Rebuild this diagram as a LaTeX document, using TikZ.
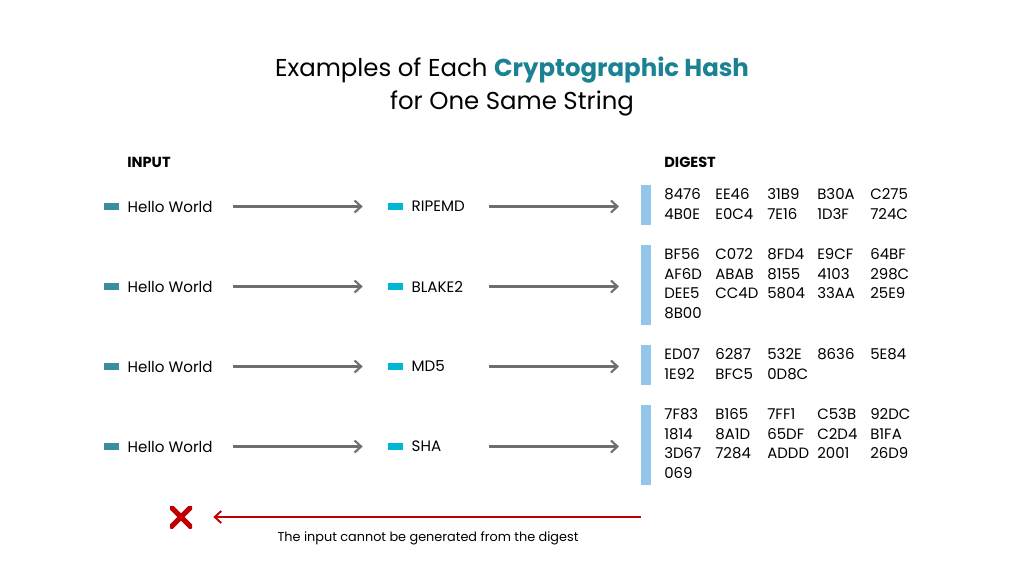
\documentclass[tikz,border=0pt]{standalone}
\usepackage{fontspec}
\setmainfont{Poppins}
\usetikzlibrary{arrows.meta,positioning}

\definecolor{hashteal}{HTML}{1A8292}
\definecolor{insq}{HTML}{3A8CA0}
\definecolor{algsq}{HTML}{00B7D8}
\definecolor{barblue}{HTML}{93C6E8}
\definecolor{flowgrey}{HTML}{6E6E6E}
\definecolor{nored}{HTML}{C00000}

\newcommand{\dgtab}[1]{\begin{tabular}{@{}p{10.2mm}@{}p{10.4mm}@{}p{10mm}@{}p{10.6mm}@{}l@{}}#1\end{tabular}}

\tikzset{
  sqin/.style={fill=insq, minimum width=3mm, minimum height=1.4mm, inner sep=0},
  sqalg/.style={fill=algsq, minimum width=3mm, minimum height=1.4mm, inner sep=0},
  lbl/.style={inner sep=0, font=\fontsize{8.6}{10}\selectfont},
  head/.style={anchor=west, inner sep=0, font=\fontsize{8.3}{10}\selectfont\bfseries},
  dig/.style={anchor=north west, inner sep=0, font=\fontsize{8.5}{11.3}\selectfont},
  flow/.style={draw=flowgrey, line width=0.42mm, -{Straight Barb[length=1.3mm,width=2.4mm]}},
  nogo/.style={draw=nored, line width=0.38mm, -{Straight Barb[length=1.3mm,width=2.4mm]}},
}

\begin{document}
\begin{tikzpicture}[x=0.02cm, y=-0.02cm]
  \useasboundingbox[fill=white] (0,0) rectangle (1024,576);

  % title
  \node[align=center, inner sep=0, font=\fontsize{13.9}{19.3}\selectfont] (title) at (512,86.5)
    {Examples of Each \textcolor{hashteal}{\textbf{Cryptographic Hash}}\\ for One Same String};

  \node[head] (hin) at (127,162) {INPUT};
  \node[head] (hdg) at (664,162) {DIGEST};

  % RIPEMD
  \node[sqin] (sqin1) at (111.5,206.5) {};
  \node[lbl, right=1.6mm of sqin1] (in1) {Hello World};
  \node[sqalg] (sqalg1) at (395.5,206.5) {};
  \node[lbl, right=1.6mm of sqalg1] (alg1) {RIPEMD};
  \node[dig] (dg1) at (664,185) {\dgtab{8476 & EE46 & 31B9 & B30A & C275\\ 4B0E & E0C4 & 7E16 & 1D3F & 724C}};
  \fill[barblue] ([xshift=-4.6mm]dg1.north west) rectangle ([xshift=-2.6mm]dg1.south west);
  \draw[flow, shorten <=22.8mm, shorten >=5mm] (sqin1.east) -- (sqalg1.west);
  \draw[flow, shorten <=17.2mm, shorten >=9mm] (sqalg1.east) -- (sqalg1.east -| dg1.west);

  % BLAKE2
  \node[sqin] (sqin2) at (111.5,286.5) {};
  \node[lbl, right=1.6mm of sqin2] (in2) {Hello World};
  \node[sqalg] (sqalg2) at (395.5,286.5) {};
  \node[lbl, right=1.6mm of sqalg2] (alg2) {BLAKE2};
  \node[dig] (dg2) at (664,245) {\dgtab{BF56 & C072 & 8FD4 & E9CF & 64BF\\ AF6D & ABAB & 8155 & 4103 & 298C\\ DEE5 & CC4D & 5804 & 33AA & 25E9\\ 8B00}};
  \fill[barblue] ([xshift=-4.6mm]dg2.north west) rectangle ([xshift=-2.6mm]dg2.south west);
  \draw[flow, shorten <=22.8mm, shorten >=5mm] (sqin2.east) -- (sqalg2.west);
  \draw[flow, shorten <=17.2mm, shorten >=9mm] (sqalg2.east) -- (sqalg2.east -| dg2.west);

  % MD5
  \node[sqin] (sqin3) at (111.5,366.5) {};
  \node[lbl, right=1.6mm of sqin3] (in3) {Hello World};
  \node[sqalg] (sqalg3) at (395.5,366.5) {};
  \node[lbl, right=1.6mm of sqalg3] (alg3) {MD5};
  \node[dig] (dg3) at (664,345) {\dgtab{ED07 & 6287 & 532E & 8636 & 5E84\\ 1E92 & BFC5 & 0D8C}};
  \fill[barblue] ([xshift=-4.6mm]dg3.north west) rectangle ([xshift=-2.6mm]dg3.south west);
  \draw[flow, shorten <=22.8mm, shorten >=5mm] (sqin3.east) -- (sqalg3.west);
  \draw[flow, shorten <=17.2mm, shorten >=9mm] (sqalg3.east) -- (sqalg3.east -| dg3.west);

  % SHA
  \node[sqin] (sqin4) at (111.5,446.5) {};
  \node[lbl, right=1.6mm of sqin4] (in4) {Hello World};
  \node[sqalg] (sqalg4) at (395.5,446.5) {};
  \node[lbl, right=1.6mm of sqalg4] (alg4) {SHA};
  \node[dig] (dg4) at (664,405) {\dgtab{7F83 & B165 & 7FF1 & C53B & 92DC\\ 1814 & 8A1D & 65DF & C2D4 & B1FA\\ 3D67 & 7284 & ADDD & 2001 & 26D9\\ 069}};
  \fill[barblue] ([xshift=-4.6mm]dg4.north west) rectangle ([xshift=-2.6mm]dg4.south west);
  \draw[flow, shorten <=22.8mm, shorten >=5mm] (sqin4.east) -- (sqalg4.west);
  \draw[flow, shorten <=17.2mm, shorten >=9mm] (sqalg4.east) -- (sqalg4.east -| dg4.west);

  % no way back
  \node[minimum size=4.4mm, inner sep=0, path picture={
      \draw[nored, line width=1mm] (path picture bounding box.north west) -- (path picture bounding box.south east);
      \draw[nored, line width=1mm] (path picture bounding box.north east) -- (path picture bounding box.south west);
    }] (cross) at (181,517) {};
  \coordinate (back) at (641,517);
  \draw[nogo, shorten >=4.2mm] (back) -- (cross.east);
  \node[inner sep=0, font=\fontsize{7.3}{9}\selectfont] (note) at (428,538) {The input cannot be generated from the digest};

\end{tikzpicture}
\end{document}
